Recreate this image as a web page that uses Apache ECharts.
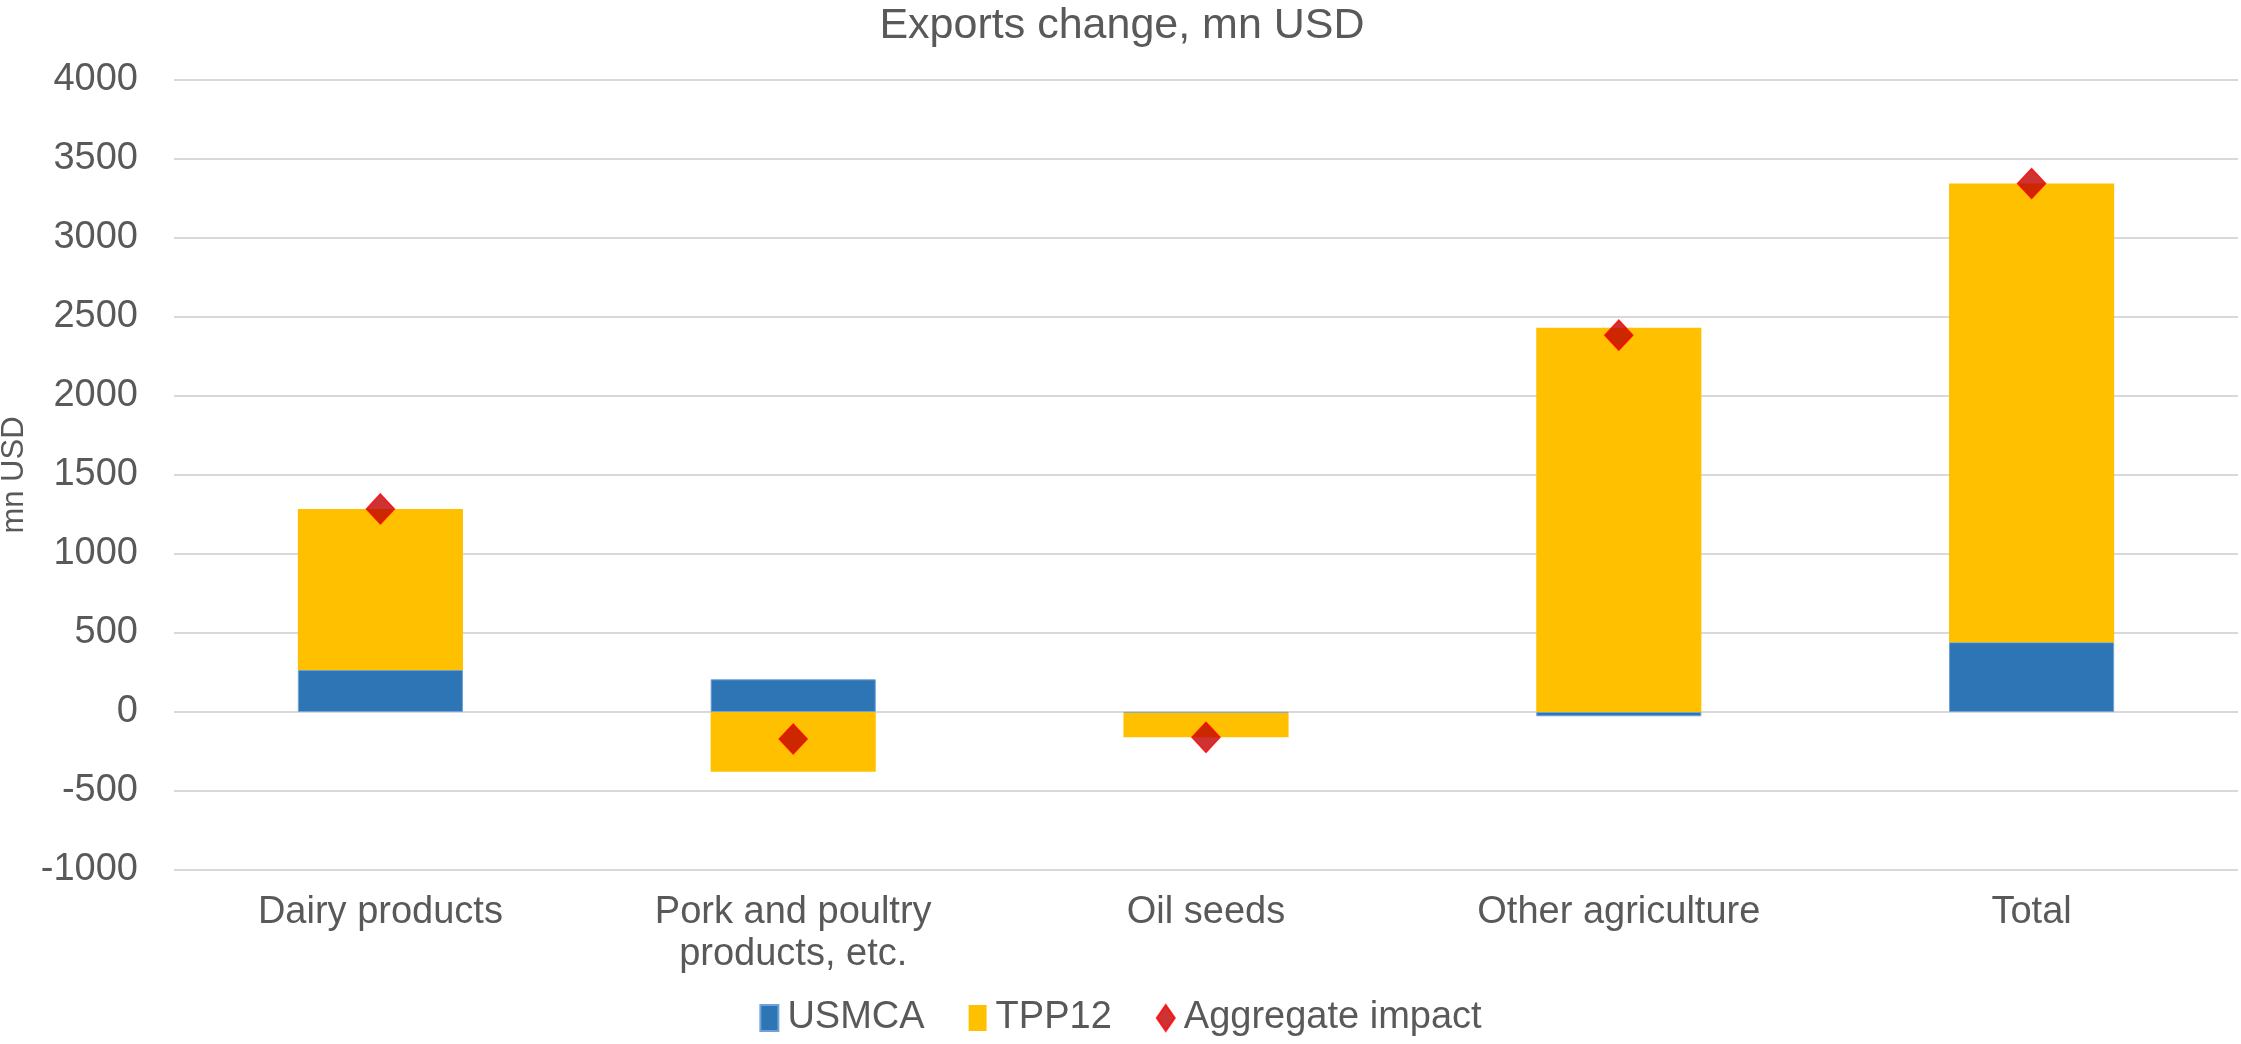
<!DOCTYPE html>
<html>
<head>
<meta charset="utf-8">
<script src="https://cdn.jsdelivr.net/npm/echarts@6/dist/echarts.min.js"></script>
<style>
  html, body { margin: 0; padding: 0; background: #fff; }
  #exportsChart { width: 2241px; height: 1044px; }
</style>
</head>
<body>
<div id="exportsChart"></div>
<script>
// values, mn USD
var categories = ["Dairy products", "Pork and poultry\nproducts, etc.", "Oil seeds", "Other agriculture", "Total"];
var usmca = [266, 207, -5, -27, 442];
var tpp12 = [1019, -378, -155, 2432, 2903];
var aggregate = [1285, -171, -160, 2385, 3345];
var yTicks = [-1000, -500, 0, 500, 1000, 1500, 2000, 2500, 3000, 3500, 4000];

var textColor = "#595959";
var chart = echarts.init(document.getElementById("exportsChart"));

var option = {
  animation: false,
  textStyle: { fontFamily: "Liberation Sans, Arial, sans-serif" },
  title: {
    text: "Exports change, mn USD",
    left: 1117,
    textAlign: "center",
    top: 0,
    textStyle: { color: textColor, fontSize: 43, fontWeight: "normal" },
  },
  grid: {
    left: 174,
    right: 3,
    top: 80,
    bottom: 174,
    outerBoundsMode: "none",
  },
  legend: {
    bottom: 2,
    left: "center",
    itemGap: 44,
    itemWidth: 18,
    itemHeight: 26,
    textStyle: { color: textColor, fontSize: 38, padding: [0, 0, 0, 4] },
    data: [
      { name: "USMCA", icon: "rect" },
      { name: "TPP12", icon: "rect" },
      { name: "Aggregate impact", icon: "diamond" },
    ],
  },
  xAxis: {
    type: "category",
    data: categories,
    axisLine: { show: false },
    axisTick: { show: false },
    axisLabel: {
      color: textColor,
      fontSize: 38,
      margin: 22,
      lineHeight: 42,
      interval: 0,
    },
  },
  yAxis: {
    type: "value",
    min: yTicks[0],
    max: yTicks[yTicks.length - 1],
    interval: 500,
    name: "mn USD",
    nameLocation: "middle",
    nameRotate: 90,
    nameGap: 128,
    nameTextStyle: { color: textColor, fontSize: 31 },
    axisLine: { show: false },
    axisTick: { show: false },
    axisLabel: {
      color: textColor,
      fontSize: 38,
      margin: 36,
      formatter: function (v) { return String(v); },
    },
    splitLine: { lineStyle: { color: "#d9d9d9", width: 2 } },
  },
  series: [
    {
      name: "USMCA",
      type: "bar",
      stack: "exp",
      barWidth: "40%",
      itemStyle: { color: "#2E75B6", borderColor: "#6FA3D8", borderWidth: 1 },
      data: usmca,
    },
    {
      name: "TPP12",
      type: "bar",
      stack: "exp",
      barWidth: "40%",
      itemStyle: { color: "#FFC000" },
      data: tpp12,
    },
    {
      name: "Aggregate impact",
      type: "scatter",
      symbol: "diamond",
      symbolSize: [28, 30],
      z: 10,
      itemStyle: { color: "#C00000", borderColor: "#FF0000", borderWidth: 1.5 },
      data: aggregate,
    },
  ],
};

chart.setOption(option);
</script>
</body>
</html>
